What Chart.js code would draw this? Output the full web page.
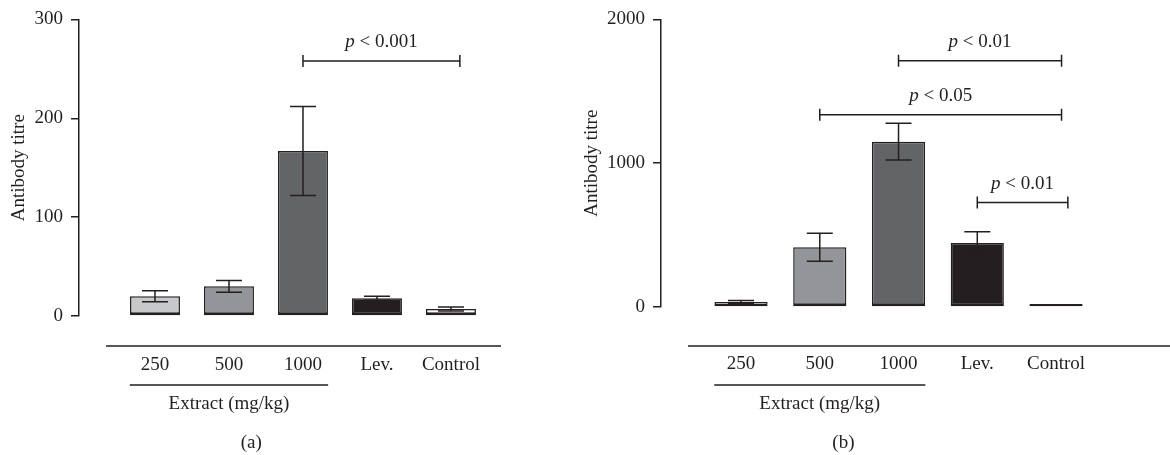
<!DOCTYPE html>
<html>
<head>
<meta charset="utf-8">
<script src="https://cdn.jsdelivr.net/npm/chart.js@4.4.1/dist/chart.umd.min.js"></script>
<style>
  body { margin: 0; background: #fff; }
  #wrap { position: relative; width: 1170px; height: 455px; }
  canvas { position: absolute; top: 0; }
</style>
</head>
<body>
<div id="wrap">
  <canvas id="chartA" width="580" height="455" style="left:0"></canvas>
  <canvas id="chartB" width="590" height="455" style="left:580px"></canvas>
</div>
<script>
// === DATA === //

const groups = ["250", "500", "1000", "Lev.", "Control"]
const barColors = ["#c7c8ca", "#939598", "#636466", "#231f20", "#ffffff"]

const titreA = [20, 30, 167, 18, 7]
const errorA = [5.5, 6, 45, 2, 2]
const ticksA = [0, 100, 200, 300]

const titreB = [35, 415, 1150, 445, 9]
const errorB = [11, 97, 128, 78, 0]
const ticksB = [0, 1000, 2000]

// from group, to group, level, text after "p"
const signifA = [[2, 4.12, 258, " < 0.001"]]
const signifB = [[2, 4.07, 1712, " < 0.01"], [1, 4.07, 1337, " < 0.05"], [3, 4.15, 726, " < 0.01"]]

// === DRAWING === //

const ink = "#231f20"
const serif = "'Liberation Serif', 'DejaVu Serif', serif"
const fontSize = 19

const extrasPlugin = {
  id: "extras",
  afterDraw(chart, args, opts) {
    const ctx = chart.ctx
    const x = chart.scales.x
    const y = chart.scales.y
    const area = chart.chartArea
    const bars = chart.getDatasetMeta(0).data
    ctx.save()
    ctx.strokeStyle = ink
    ctx.fillStyle = ink
    ctx.lineWidth = 1.5

    // error bars
    opts.errors.forEach((err, i) => {
      if (!err) return
      const v = opts.values[i]
      const cx = bars[i].x
      const top = y.getPixelForValue(v + err)
      const bot = y.getPixelForValue(Math.max(v - err, 0))
      ctx.beginPath()
      ctx.moveTo(cx, top); ctx.lineTo(cx, bot)
      ctx.moveTo(cx - 13, top); ctx.lineTo(cx + 13, top)
      ctx.moveTo(cx - 13, bot); ctx.lineTo(cx + 13, bot)
      ctx.stroke()
    })

    // significance brackets
    opts.signif.forEach(([from, to, level, text]) => {
      const x0 = x.getPixelForValue(from)
      const x1 = x.getPixelForValue(to)
      const ly = y.getPixelForValue(level)
      ctx.beginPath()
      ctx.moveTo(x0, ly); ctx.lineTo(x1, ly)
      ctx.moveTo(x0, ly - 6); ctx.lineTo(x0, ly + 6)
      ctx.moveTo(x1, ly - 6); ctx.lineTo(x1, ly + 6)
      ctx.stroke()
      ctx.font = "italic " + fontSize + "px " + serif
      const pw = ctx.measureText("p").width
      ctx.font = fontSize + "px " + serif
      const tw = ctx.measureText(text).width
      const start = (x0 + x1) / 2 - (pw + tw) / 2
      ctx.textAlign = "left"
      ctx.textBaseline = "alphabetic"
      ctx.font = "italic " + fontSize + "px " + serif
      ctx.fillText("p", start, ly - 14)
      ctx.font = fontSize + "px " + serif
      ctx.fillText(text, start + pw, ly - 14)
    })

    // category ruler, group line and captions
    ctx.beginPath()
    ctx.moveTo(area.left + 27, opts.rulerY)
    ctx.lineTo(area.right, opts.rulerY)
    const g0 = x.getPixelForValue(-0.34)
    const g1 = x.getPixelForValue(2.34)
    ctx.moveTo(g0, 385); ctx.lineTo(g1, 385)
    ctx.stroke()
    ctx.textAlign = "center"
    ctx.textBaseline = "middle"
    ctx.font = fontSize + "px " + serif
    ctx.fillText("Extract (mg/kg)", (g0 + g1) / 2, 404)
    ctx.fillText(opts.caption, x.getPixelForValue(1.3), 443)
    ctx.restore()
  }
}

function makeChart(canvasId, values, errors, yTicks, signif, caption, frame) {
  const data = {
    datasets: [{
      data: values.map((v, i) => ({ x: i, y: v })),
      backgroundColor: barColors,
      borderColor: ink,
      borderWidth: { top: 1.5, left: 1.5, right: 1.5, bottom: 3 },
      borderSkipped: false,
      minBarLength: 3,
      barPercentage: 0.675,
      categoryPercentage: 1
    }]
  }

  const config = {
    type: "bar",
    data,
    plugins: [extrasPlugin],
    options: {
      responsive: false,
      animation: false,
      events: [],
      layout: { padding: { top: 17, left: 0, right: frame.padRight, bottom: 0 } },
      plugins: {
        legend: { display: false },
        tooltip: { enabled: false },
        extras: { values, errors, signif, caption, rulerY: 346 }
      },
      scales: {
        x: {
          type: "linear",
          offset: false,
          min: frame.min,
          max: frame.max,
          grid: { display: false },
          border: { display: false },
          afterBuildTicks: scale => { scale.ticks = groups.map((g, i) => ({ value: i })) },
          afterFit: scale => { scale.height = frame.xHeight },
          ticks: {
            autoSkip: false,
            maxRotation: 0,
            padding: frame.labelPad,
            color: ink,
            font: { family: serif, size: fontSize },
            callback: v => groups[v]
          }
        },
        y: {
          min: 0,
          max: yTicks[yTicks.length - 1],
          afterBuildTicks: scale => { scale.ticks = yTicks.map(t => ({ value: t })) },
          afterFit: scale => { scale.width = frame.yWidth },
          grid: { drawOnChartArea: false, tickLength: 8, color: ink, lineWidth: 1.5 },
          border: { color: ink, width: 1.5 },
          ticks: {
            padding: 8,
            color: ink,
            font: { family: serif, size: fontSize },
            callback: v => String(v)
          },
          title: {
            display: true,
            text: "Antibody titre",
            color: ink,
            font: { family: serif, size: fontSize },
            padding: { top: frame.titlePad, bottom: 0 }
          }
        }
      }
    }
  }

  return new Chart(document.getElementById(canvasId), config)
}

makeChart("chartA", titreA, errorA, ticksA, signifA, "(a)",
  { yWidth: 79, xHeight: 139, padRight: 79, min: -1.027, max: 4.676, labelPad: 30, titlePad: 8 })
makeChart("chartB", titreB, errorB, ticksB, signifB, "(b)",
  { yWidth: 81, xHeight: 148, padRight: 0, min: -1.016, max: 5.447, labelPad: 38, titlePad: 1 })
</script>
</body>
</html>
